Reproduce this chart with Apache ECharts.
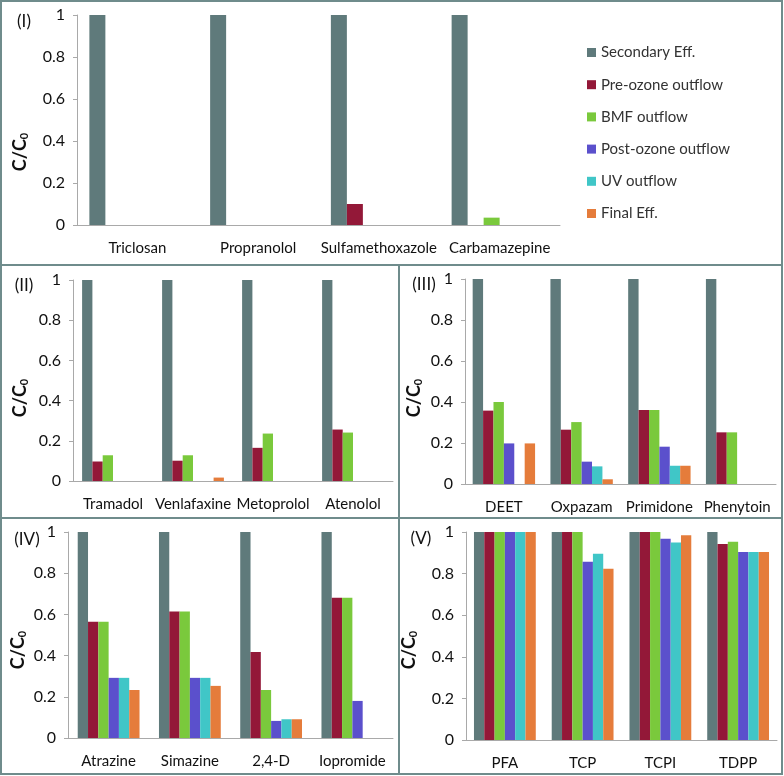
<!DOCTYPE html>
<html>
<head>
<meta charset="utf-8">
<script src="https://cdn.jsdelivr.net/npm/echarts@6/dist/echarts.min.js"></script>
<style>
  html, body { margin: 0; padding: 0; background: #fff; }
  #main { width: 784px; height: 776px; }
</style>
</head>
<body>
<div id="main"></div>
<script>
// series (treatment steps) and their colours
var stepNames = ['Secondary Eff.', 'Pre-ozone outflow', 'BMF outflow', 'Post-ozone outflow', 'UV outflow', 'Final Eff.'];
var colors = ['#5f7a7b', '#931838', '#7ac93c', '#5b50cc', '#40c6c7', '#e57c3b'];

// panel I
var cats1 = ['Triclosan', 'Propranolol', 'Sulfamethoxazole', 'Carbamazepine'];
var vals1 = [
    [1, 1, 1, 1],
    [0, 0, 0.1, 0],
    [0, 0, 0, 0.035],
    [0, 0, 0, 0],
    [0, 0, 0, 0],
    [0, 0, 0, 0]
];
// panel II
var cats2 = ['Tramadol', 'Venlafaxine', 'Metoprolol', 'Atenolol'];
var vals2 = [
    [1, 1, 1, 1],
    [0.097, 0.101, 0.165, 0.256],
    [0.128, 0.128, 0.236, 0.241],
    [0, 0, 0, 0],
    [0, 0, 0, 0],
    [0, 0.017, 0, 0]
];
// panel III
var cats3 = ['DEET', 'Oxpazam', 'Primidone', 'Phenytoin'];
var vals3 = [
    [1, 1, 1, 1],
    [0.358, 0.265, 0.361, 0.252],
    [0.4, 0.302, 0.361, 0.252],
    [0.198, 0.109, 0.182, 0],
    [0, 0.086, 0.089, 0],
    [0.198, 0.023, 0.089, 0]
];
// panel IV
var cats4 = ['Atrazine', 'Simazine', '2,4-D', 'Iopromide'];
var vals4 = [
    [1, 1, 1, 1],
    [0.564, 0.614, 0.417, 0.681],
    [0.564, 0.614, 0.233, 0.681],
    [0.292, 0.292, 0.083, 0.18],
    [0.292, 0.292, 0.091, 0],
    [0.233, 0.253, 0.091, 0]
];
// panel V
var cats5 = ['PFA', 'TCP', 'TCPI', 'TDPP'];
var vals5 = [
    [1, 1, 1, 1],
    [1, 1, 1, 0.942],
    [1, 1, 1, 0.953],
    [1, 0.857, 0.968, 0.904],
    [1, 0.895, 0.949, 0.904],
    [1, 0.823, 0.984, 0.904]
];
var panelTags = ['(I)', '(II)', '(III)', '(IV)', '(V)'];

var font = 'Lato';
var panels = [
    {cats: cats1, vals: vals1, grid: {left: 77, top: 15, width: 483, height: 210}, bw: 16, tag: [24, 22], yl: [20, 152]},
    {cats: cats2, vals: vals2, grid: {left: 73, top: 280, width: 320, height: 201}, bw: 10.3, tag: [24, 286], yl: [20, 398]},
    {cats: cats3, vals: vals3, grid: {left: 465, top: 279, width: 311, height: 205}, bw: 10.4, tag: [424, 285], yl: [414, 398]},
    {cats: cats4, vals: vals4, grid: {left: 68, top: 532, width: 325, height: 206}, bw: 10.3, tag: [27, 540], yl: [18, 650]},
    {cats: cats5, vals: vals5, grid: {left: 466, top: 532, width: 311, height: 208}, bw: 10.3, tag: [421, 539], yl: [409, 650]}
];

var grids = [], xAxes = [], yAxes = [], series = [], graphics = [];
panels.forEach(function (p, i) {
    grids.push(p.grid);
    xAxes.push({
        type: 'category',
        gridIndex: i,
        data: p.cats,
        axisLine: {lineStyle: {color: '#a9a9a9'}},
        axisTick: {length: 5, lineStyle: {color: '#a9a9a9'}},
        axisLabel: {interval: 0, margin: 16, fontFamily: font, fontSize: 15, color: '#111'}
    });
    yAxes.push({
        type: 'value',
        gridIndex: i,
        min: 0,
        max: 1,
        interval: 0.2,
        splitLine: {show: false},
        axisLine: {show: true, lineStyle: {color: '#a9a9a9'}},
        axisTick: {show: true, length: 4, lineStyle: {color: '#a9a9a9'}},
        axisLabel: {margin: 12, fontFamily: font, fontSize: 16, color: '#111'}
    });
    p.vals.forEach(function (row, k) {
        series.push({
            name: stepNames[k],
            type: 'bar',
            xAxisIndex: i,
            yAxisIndex: i,
            barWidth: p.bw,
            barGap: 0,
            itemStyle: {color: colors[k]},
            data: row
        });
    });
    graphics.push({
        type: 'text', x: p.tag[0], y: p.tag[1],
        style: {text: panelTags[i], font: '17px ' + font, fill: '#111', textAlign: 'center', textVerticalAlign: 'middle'}
    });
    graphics.push({
        type: 'text', x: p.yl[0], y: p.yl[1], rotation: Math.PI / 2,
        style: {
            text: '{a|C/C}{b|0}',
            textAlign: 'center', textVerticalAlign: 'middle',
            rich: {
                a: {fontFamily: font, fontSize: 18, fontWeight: 'bold', fill: '#111'},
                b: {fontFamily: font, fontSize: 11, fontWeight: 'bold', fill: '#111', verticalAlign: 'bottom', padding: [8, 0, 0, 0]}
            }
        }
    });
});

// panel borders
var bc = '#6f8c8c';
graphics.push({type: 'rect', shape: {x: 1, y: 1, width: 781, height: 773}, style: {fill: 'none', stroke: bc, lineWidth: 2}, silent: true});
graphics.push({type: 'line', shape: {x1: 1, y1: 265, x2: 782, y2: 265}, style: {stroke: bc, lineWidth: 2}});
graphics.push({type: 'line', shape: {x1: 1, y1: 518, x2: 782, y2: 518}, style: {stroke: bc, lineWidth: 2}});
graphics.push({type: 'line', shape: {x1: 399, y1: 265, x2: 399, y2: 774}, style: {stroke: bc, lineWidth: 2}});

var chart = echarts.init(document.getElementById('main'));
chart.setOption({
    animation: false,
    backgroundColor: '#fff',
    legend: {
        data: stepNames,
        orient: 'vertical',
        left: 582,
        top: 40,
        icon: 'rect',
        itemWidth: 9,
        itemHeight: 9,
        itemGap: 17.2,
        selectedMode: false,
        textStyle: {fontFamily: font, fontSize: 15, lineHeight: 14, color: '#333'}
    },
    grid: grids,
    xAxis: xAxes,
    yAxis: yAxes,
    series: series,
    graphic: graphics
});
</script>
</body>
</html>
